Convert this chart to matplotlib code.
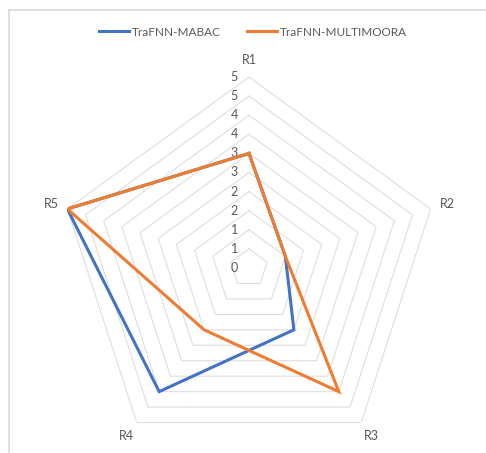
import numpy as np
import matplotlib
matplotlib.use("Agg")
import matplotlib.pyplot as plt
from matplotlib.lines import Line2D

plt.rcParams['font.family'] = ['Lato', 'DejaVu Sans']

categories = ["R1", "R2", "R3", "R4", "R5"]
mabac = [3, 1, 2, 4, 5]
multimoora = [3, 1, 4, 2, 5]
series_names = ["TraFNN-MABAC", "TraFNN-MULTIMOORA"]
grid_levels = [0.5, 1.0, 1.5, 2.0, 2.5, 3.0, 3.5, 4.0, 4.5, 5.0]
tick_values = [0, 0.5, 1.0, 1.5, 2.0, 2.5, 3.0, 3.5, 4.0, 4.5, 5.0]

W, H = 486, 453
fig = plt.figure(figsize=(W / 100, H / 100), dpi=100)

cx, cy, rad = 249, 268, 191
ax = fig.add_axes([(cx - rad) / W, (H - cy - rad) / H, 2 * rad / W, 2 * rad / H],
                  projection='polar')
ax.set_theta_zero_location('N')
ax.set_theta_direction(-1)
ax.set_ylim(0, 5)
ax.grid(False)
ax.spines['polar'].set_visible(False)
ax.set_xticks([])
ax.set_yticks([])
ax.patch.set_alpha(0)

n = len(categories)
angles = np.arange(n) * 2 * np.pi / n
closed = np.concatenate([angles, angles[:1]])

grid_col = '#dedede'
for lv in grid_levels:
    ax.plot(closed, [lv] * (n + 1), color=grid_col, lw=0.8, zorder=1)

ax.plot(closed, mabac + mabac[:1], color='#4472C4', lw=2.2, zorder=3,
        solid_joinstyle='miter')
ax.plot(closed, multimoora + multimoora[:1], color='#ED7D31', lw=2.2, zorder=4,
        solid_joinstyle='miter')

for v in tick_values:
    lab = str(int(np.floor(v + 0.5)))
    ax.annotate(lab, xy=(0, v), xytext=(-8, 0), textcoords='offset points',
                ha='right', va='center', fontsize=9, color='#595959')

for a, c in zip(angles, categories):
    ax.text(a, 5.45, c, ha='center', va='center', fontsize=9, color='#595959')

handles = [Line2D([], [], color='#4472C4', lw=2.2),
           Line2D([], [], color='#ED7D31', lw=2.2)]
fig.legend(handles, series_names, loc='center', bbox_to_anchor=(0.52, 1 - 32 / H),
           ncol=2, frameon=False, fontsize=8.5, handlelength=2.6,
           handletextpad=0.2, columnspacing=2.2, labelcolor='#595959')

fig.add_artist(Line2D([9 / W, 9 / W], [0, 1 - 10 / H], color='#d9d9d9', lw=1.2,
                      transform=fig.transFigure))
fig.add_artist(Line2D([9 / W, 1], [1 - 10 / H, 1 - 10 / H], color='#d9d9d9', lw=1.2,
                      transform=fig.transFigure))

fig.savefig('out.png', dpi=100, facecolor='white')
